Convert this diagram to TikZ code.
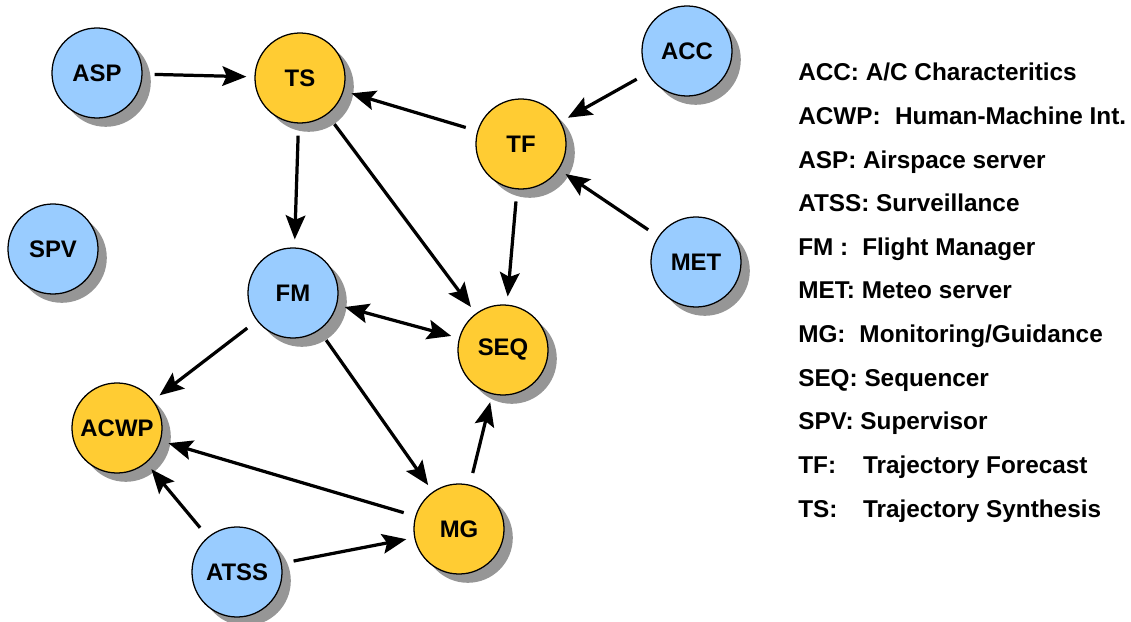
\documentclass[tikz,border=0pt]{standalone}
\usepackage{fontspec}
\setmainfont{Liberation Sans}
\usetikzlibrary{arrows.meta,shadows}

\begin{document}
\begin{tikzpicture}[
    x=0.025cm, y=-0.025cm,
    every node/.style={font=\bfseries\fontsize{17}{19}\selectfont},
    unit/.style={circle, draw=black, line width=0.9pt, minimum size=2.25cm, inner sep=0pt,
      drop shadow={shadow xshift=0.22cm, shadow yshift=-0.22cm, fill=shadowgray, opacity=1}},
    server/.style={unit, fill=unitblue},
    func/.style={unit, fill=unitorange},
    >={Stealth[length=6mm, width=4.9mm, inset=1.1mm]},
    flow/.style={line width=2.3pt, ->, shorten <=0.3cm, shorten >=0.2cm},
    twoway/.style={line width=2.3pt, <->, shorten <=0.2cm, shorten >=0.2cm},
    legend/.style={anchor=base west, inner sep=0pt, font=\bfseries\fontsize{17.3}{19}\selectfont},
  ]
    \definecolor{unitblue}{HTML}{99CCFF}
    \definecolor{unitorange}{HTML}{FFCC33}
    \definecolor{shadowgray}{HTML}{969696}

    \useasboundingbox (0,0) rectangle (1131,622);

    % ============ units ============
    \node[server] (asp)  at (97,73)   {ASP};
    \node[func]   (ts)   at (300,78)  {TS};
    \node[server] (acc)  at (687,51)  {ACC};
    \node[func]   (tf)   at (521,144) {TF};
    \node[server] (spv)  at (53,249)  {SPV};
    \node[server] (met)  at (696,262) {MET};
    \node[server] (fm)   at (293,293) {FM};
    \node[func]   (seq)  at (503,350) {SEQ};
    \node[func]   (acwp) at (117,428) {ACWP};
    \node[func]   (mg)   at (459,529) {MG};
    \node[server] (atss) at (237,572) {ATSS};

    % ============ data flows ============
    \draw[flow] (asp) -- (ts);
    \draw[flow] (tf) -- (ts);
    \draw[flow] (acc) -- (tf);
    \draw[flow] (met) -- (tf);
    \draw[flow] (ts) -- (fm);
    \draw[flow] (ts) -- (seq);
    \draw[flow] (tf) -- (seq);
    \draw[twoway] (fm) -- (seq);
    \draw[flow] (fm) -- (acwp);
    \draw[flow] (fm) -- (mg);
    \draw[flow] (mg) -- (acwp);
    \draw[flow] (atss) -- (acwp);
    \draw[flow] (atss) -- (mg);
    \draw[flow] (mg) -- (seq);

    % ============ legend ============
    \node[legend] (leg-acc)  at (798,81)    {ACC: A/C Characteritics};
    \node[legend] (leg-acwp) at (798,124.6) {\makebox[2.42cm][l]{ACWP:}Human-Machine Int.};
    \node[legend] (leg-asp)  at (798,168.2) {ASP: Airspace server};
    \node[legend] (leg-atss) at (798,211.8) {ATSS: Surveillance};
    \node[legend] (leg-fm)   at (798,255.4) {\makebox[1.6cm][l]{FM :}Flight Manager};
    \node[legend] (leg-met)  at (798,299)   {MET: Meteo server};
    \node[legend] (leg-mg)   at (798,342.6) {\makebox[1.53cm][l]{MG:}Monitoring/Guidance};
    \node[legend] (leg-seq)  at (798,386.2) {SEQ: Sequencer};
    \node[legend] (leg-spv)  at (798,429.8) {SPV: Supervisor};
    \node[legend] (leg-tf)   at (798,473.4) {\makebox[1.62cm][l]{TF:}Trajectory Forecast};
    \node[legend] (leg-ts)   at (798,517)   {\makebox[1.62cm][l]{TS:}Trajectory Synthesis};
  \end{tikzpicture}
\end{document}
